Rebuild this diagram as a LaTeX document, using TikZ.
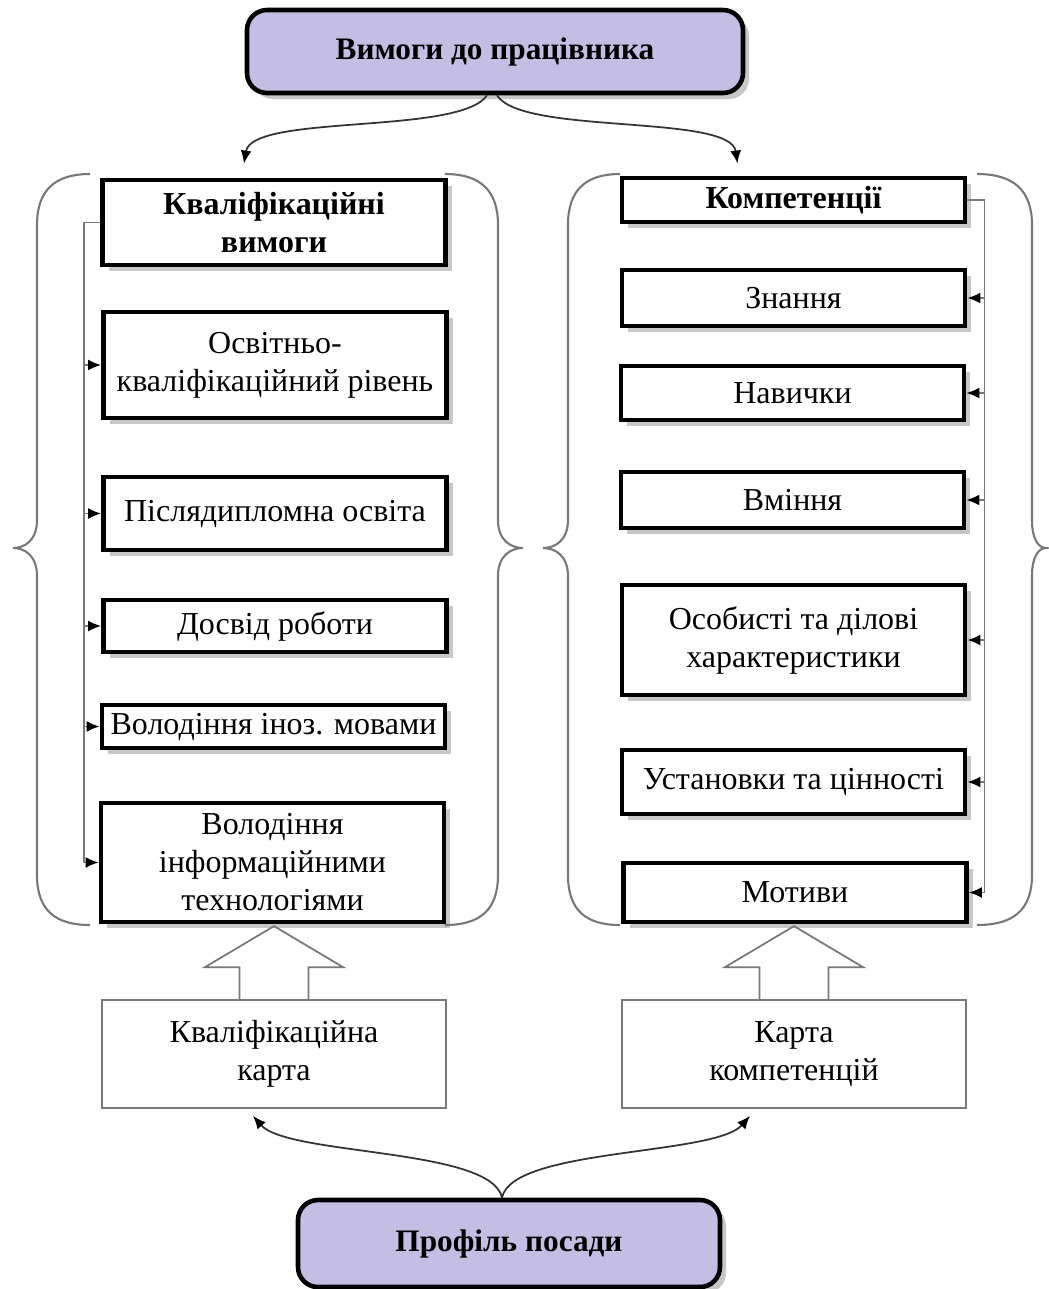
\documentclass[tikz,border=0pt]{standalone}
\usepackage{fontspec}
\setmainfont{Liberation Serif}
\usetikzlibrary{arrows.meta, shadows, positioning}
\definecolor{headfill}{RGB}{197,190,228}
\definecolor{linegray}{RGB}{120,120,120}

\begin{document}
\begin{tikzpicture}[font=\fontsize{9.1}{10.8}\selectfont,
    softshadow/.style={drop shadow={shadow xshift=0.6mm, shadow yshift=-0.6mm, fill=black, opacity=0.22}},
    headbox/.style={draw, line width=1.3pt, fill=headfill, rounded corners=0.2cm, align=center, softshadow,
      font=\fontsize{8.9}{10.8}\selectfont\bfseries},
    itembox/.style={draw, line width=1.4pt, fill=white, minimum width=3.43cm, align=center, inner sep=1pt, softshadow},
    headtext/.style={font=\fontsize{9.1}{10.8}\selectfont\bfseries},
    cardbox/.style={draw=linegray, line width=0.5pt, fill=white, minimum width=3.44cm, minimum height=1.08cm, align=center},
    bus/.style={draw=linegray, line width=0.45pt},
    busarrow/.style={bus, -{Latex[length=1.3mm, width=1.1mm, color=black]}},
    brace/.style={draw=linegray, line width=0.6pt},
    blockarrow/.style={draw=linegray, line width=0.5pt},
    curve/.style={draw=black!80, line width=0.5pt, -{Latex[length=1.3mm, width=1.1mm, color=black]}}]

  \useasboundingbox (0,0) rectangle (10.49,-12.89);

  % top and bottom
  \node[headbox, minimum width=4.96cm, minimum height=0.83cm] (REQ)  at (4.95, -0.515)  {Вимоги до працівника};
  \node[headbox, minimum width=4.22cm, minimum height=0.87cm] (PROF) at (5.09, -12.435) {Профіль посади};

  % left group
  \node[itembox, headtext, minimum height=0.85cm] (QR)  at (2.74, -2.225) {Кваліфікаційні \\ вимоги};
  \node[itembox, minimum height=1.06cm]           (EDU) at (2.75, -3.65)  {Освітньо- \\ кваліфікаційний рівень};
  \node[itembox, minimum height=0.73cm]           (PGE) at (2.75, -5.135) {Післядипломна освіта};
  \node[itembox, minimum height=0.52cm]           (EXP) at (2.75, -6.26)  {Досвід роботи};
  \node[itembox, minimum height=0.43cm]           (LNG) at (2.735,-7.265) {Володіння іноз. мовами};
  \node[itembox, minimum height=1.19cm]           (ICT) at (2.725,-8.625) {Володіння \\ інформаційними \\ технологіями};

  % right group
  \node[itembox, headtext, minimum height=0.44cm] (CMP) at (7.935,-2.00)  {Компетенції};
  \node[itembox, minimum height=0.56cm]           (KNW) at (7.935,-2.98)  {Знання};
  \node[itembox, minimum height=0.54cm]           (SKL) at (7.925,-3.93)  {Навички};
  \node[itembox, minimum height=0.56cm]           (ABL) at (7.925,-5.00)  {Вміння};
  \node[itembox, minimum height=1.10cm]           (PER) at (7.935,-6.40)  {Особисті та ділові \\ характеристики};
  \node[itembox, minimum height=0.64cm]           (VAL) at (7.935,-7.82)  {Установки та цінності};
  \node[itembox, minimum height=0.59cm]           (MOT) at (7.95, -8.925) {Мотиви};

  % cards
  \node[cardbox] (QCARD) at (2.74,-10.54) {Кваліфікаційна \\ карта};
  \node[cardbox] (CCARD) at (7.94,-10.54) {Карта \\ компетенцій};

  % buses
  \draw[bus] (QR.west) -- ++(-0.16,0) coordinate (lbus) -- (lbus |- ICT.west);
  \foreach \n in {EDU,PGE,EXP,LNG,ICT}
    \draw[busarrow] (lbus |- \n.west) -- (\n.west);

  \draw[bus] (CMP.east) -- ++(0.17,0) coordinate (rbus) -- (rbus |- MOT.east);
  \foreach \n in {KNW,SKL,ABL,PER,VAL,MOT}
    \draw[busarrow] (rbus |- \n.east) -- (\n.east);

  % braces
  \foreach \e/\v/\t in {0.90/0.37/0.13, 4.45/4.98/5.23, 6.20/5.68/5.43, 9.77/10.32/10.46}
    \draw[brace] (\e,-1.74) .. controls ({\v+(\e-\v)*0.34},-1.74) and (\v,-1.9) .. (\v,-2.25)
      -- (\v,-5.2) .. controls (\v,-5.4) and ({(\v+\t)/2},-5.48) .. (\t,-5.48)
      .. controls ({(\v+\t)/2},-5.48) and (\v,-5.56) .. (\v,-5.76)
      -- (\v,-8.75) .. controls (\v,-9.1) and ({\v+(\e-\v)*0.34},-9.25) .. (\e,-9.25);

  % block arrows
  \foreach \c in {QCARD,CCARD}
    \draw[blockarrow] ([xshift=-0.345cm]\c.north) -- ++(0,0.32) -- ++(-0.345,0) -- ++(0.69,0.41)
      -- ++(0.69,-0.41) -- ++(-0.345,0) -- ++(0,-0.32);

  % curved connectors
  \draw[curve] ([xshift=-0.08cm]REQ.south) .. controls +(-0.27,-0.4) and +(0.08,0.5) .. ([xshift=-0.3cm, yshift=0.14cm]QR.north);
  \draw[curve] ([xshift=0.02cm]REQ.south)  .. controls +(0.25,-0.4) and +(-0.07,0.5) .. ([xshift=-0.56cm, yshift=0.12cm]CMP.north);

  \draw[curve] ([xshift=-0.07cm]PROF.north) .. controls +(-0.1,0.5) and +(0.35,-0.4) .. ([xshift=-0.21cm, yshift=-0.07cm]QCARD.south);
  \draw[curve] ([xshift=-0.07cm]PROF.north) .. controls +(0.1,0.5) and +(-0.35,-0.4) .. ([xshift=-0.44cm, yshift=-0.07cm]CCARD.south);
\end{tikzpicture}
\end{document}
